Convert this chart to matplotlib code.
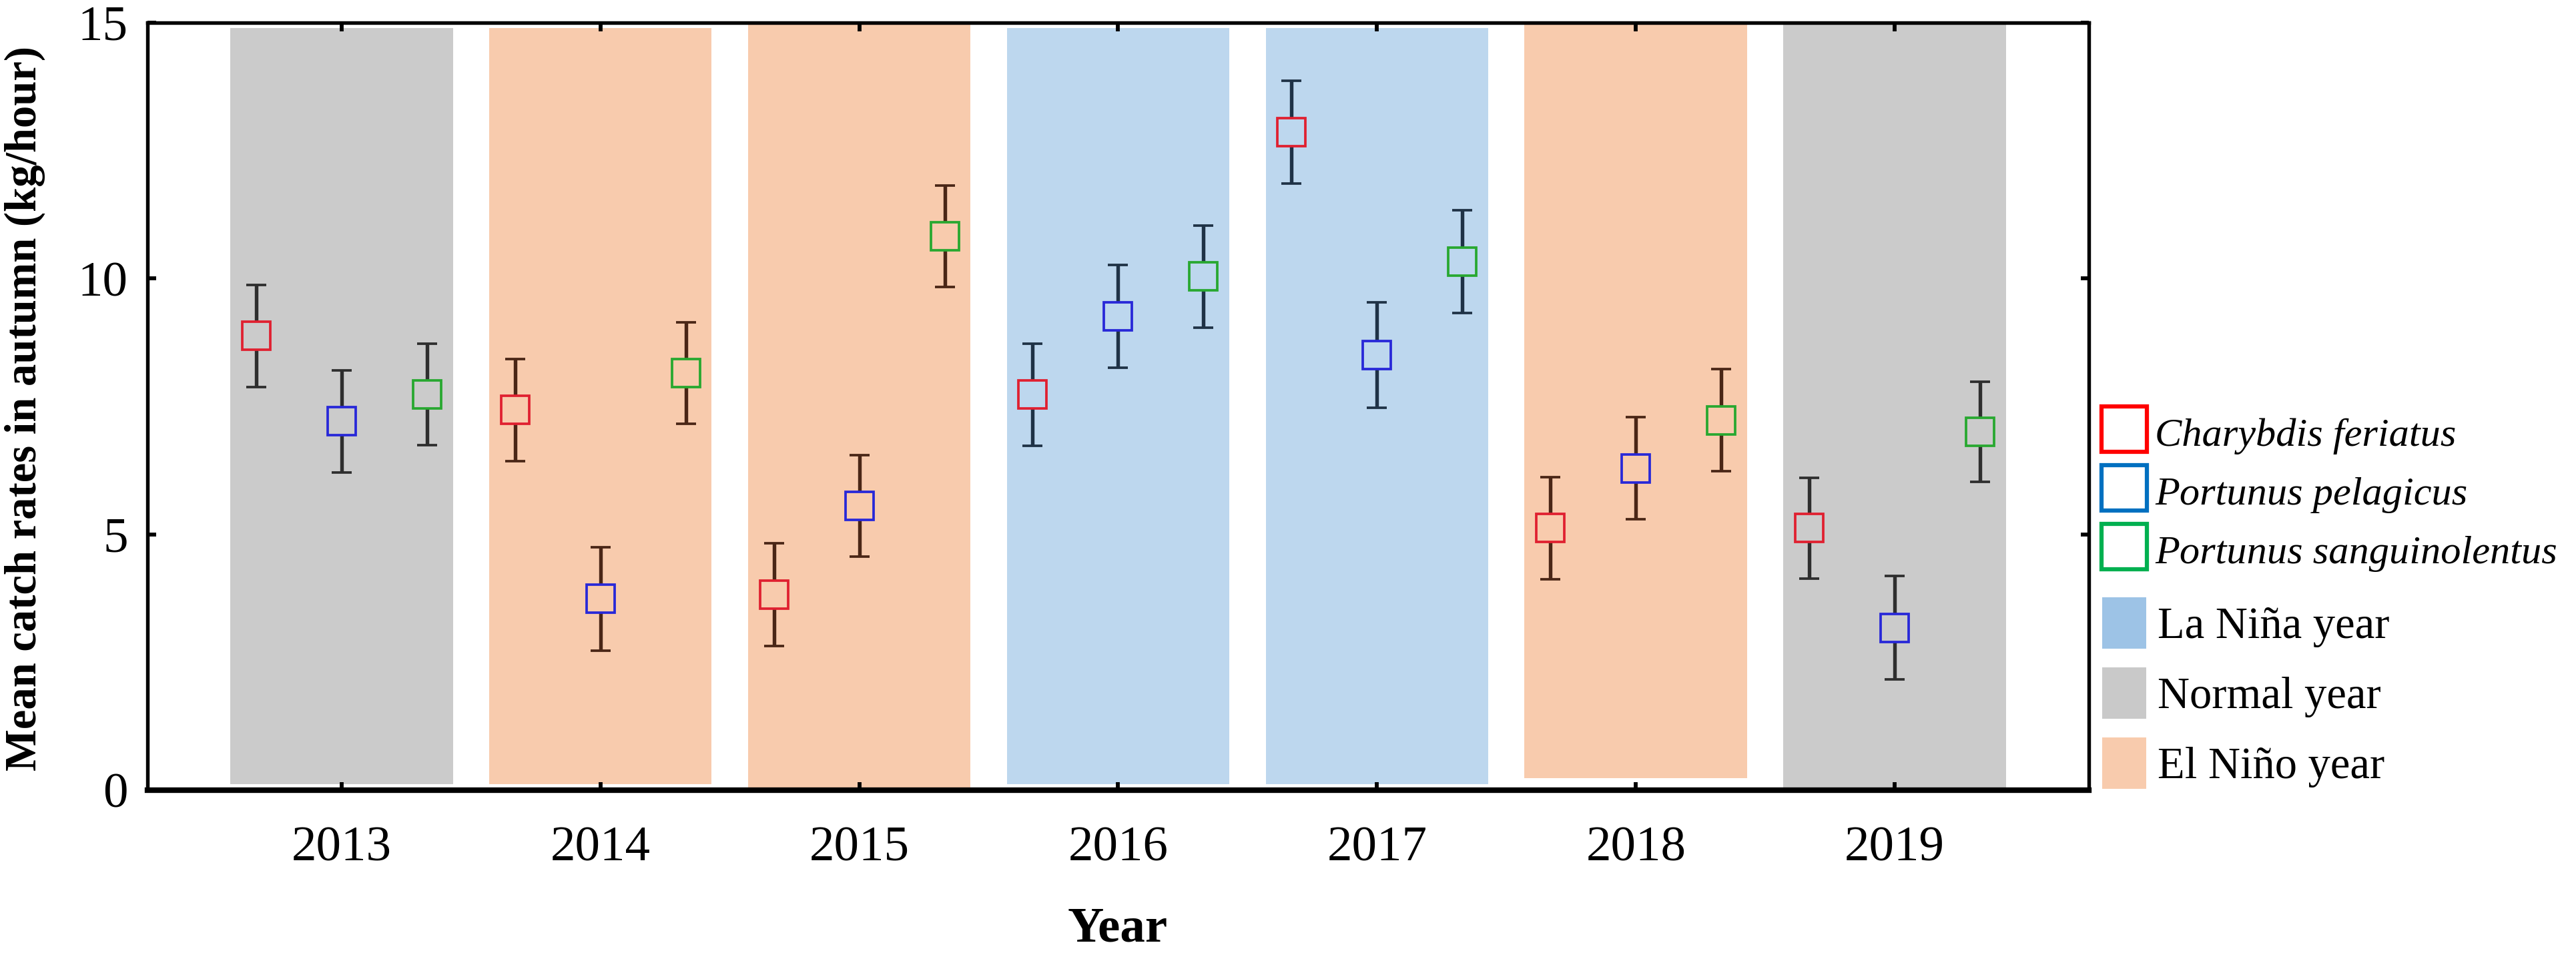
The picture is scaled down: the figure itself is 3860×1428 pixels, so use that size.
import matplotlib
matplotlib.use("Agg")
import matplotlib.pyplot as plt
from matplotlib.lines import Line2D
from matplotlib.patches import Patch

plt.rcParams['font.family'] = ['Liberation Serif', 'DejaVu Serif']

# data
years = [2013, 2014, 2015, 2016, 2017, 2018, 2019]
enso = ['Normal', 'El Niño', 'El Niño', 'La Niña', 'La Niña', 'El Niño', 'Normal']
band_bottom = [0.12, 0.12, 0.0, 0.12, 0.12, 0.23, 0.0]
band_top = [14.89, 14.89, 15.0, 14.89, 14.89, 15.0, 15.0]

species = ['Charybdis feriatus', 'Portunus pelagicus', 'Portunus sanguinolentus']
charybdis = [8.88, 7.43, 3.82, 7.73, 12.86, 5.12, 5.12]
pelagicus = [7.21, 3.74, 5.56, 9.26, 8.51, 6.29, 3.17]
sanguino = [7.73, 8.15, 10.83, 10.04, 10.33, 7.23, 7.00]
charybdis_err = [1.0, 1.0, 1.0, 1.0, 1.0, 1.0, 0.99]
pelagicus_err = [1.0, 1.01, 0.99, 1.0, 1.03, 1.0, 1.01]
sanguino_err = [0.99, 0.99, 0.99, 1.0, 1.0, 1.0, 0.98]

band_col = {'Normal': '#cbcbcb', 'El Niño': '#f8cbad', 'La Niña': '#bdd7ee'}
err_col = {'Normal': '#2e2e2e', 'El Niño': '#4a2616', 'La Niña': '#1f3246'}
legend_band_col = {'La Niña': '#9dc3e6', 'Normal': '#c9c9c9', 'El Niño': '#f8cbad'}
mk_col = ['#e02030', '#2828d8', '#28a830']
leg_col = ['#ff0000', '#0070c0', '#00b050']
offsets = [-0.33, 0.0, 0.33]

fig = plt.figure(figsize=(12.87, 4.76), dpi=300)
ax = fig.add_axes([0.0572, 0.1709, 0.7535, 0.8053])

ax.bar(years, [t - b for t, b in zip(band_top, band_bottom)], bottom=band_bottom,
       width=0.86, color=[band_col[e] for e in enso], zorder=1)

series = [charybdis, pelagicus, sanguino]
errs = [charybdis_err, pelagicus_err, sanguino_err]
for k in range(3):
    for i in range(len(years)):
        ax.errorbar(years[i] + offsets[k], series[k][i], yerr=errs[k][i],
                    fmt='s', ms=10, mfc=band_col[enso[i]], mec=mk_col[k], mew=0.9,
                    ecolor=err_col[enso[i]], elinewidth=1.3, capsize=3.5,
                    capthick=1.7, zorder=3)

ax.set_xlim(2012.25, 2019.75)
ax.set_ylim(0, 15)
ax.set_xticks(years)
ax.set_xticklabels([str(y) for y in years])
ax.set_yticks([0, 5, 10, 15])
ax.tick_params(direction='in', length=3, width=1.4, labelsize=18,
               top=True, right=True, color='black')
ax.tick_params(axis='x', pad=13)
ax.tick_params(axis='y', pad=7)
for s in ['left', 'top', 'right']:
    ax.spines[s].set_linewidth(1.3)
ax.spines['bottom'].set_linewidth(2.0)

ax.set_ylabel('Mean catch rates in autumn (kg/hour)', fontsize=16, fontweight='bold')
ax.yaxis.set_label_coords(-0.0526, 0.497)
fig.text(0.4338, 0.012, 'Year', fontsize=18, fontweight='bold', ha='center', va='baseline')

sp_handles = [Line2D([], [], ls='none', marker='s', ms=16.5, mfc='white',
                     mec=leg_col[k], mew=1.5) for k in range(3)]
fig.legend(sp_handles, species, loc='upper left', bbox_to_anchor=(0.8153, 0.567),
           frameon=False, borderpad=0, borderaxespad=0,
           handlelength=1.15, handleheight=1.1, handletextpad=0.2,
           labelspacing=0.42, prop={'style': 'italic', 'size': 14.5})

enso_labels = ['La Niña', 'Normal', 'El Niño']
band_handles = [Patch(facecolor=legend_band_col[e], edgecolor='none') for e in enso_labels]
fig.legend(band_handles, [e + ' year' for e in enso_labels], loc='upper left',
           bbox_to_anchor=(0.8158, 0.373), frameon=False, fontsize=16, borderpad=0,
           borderaxespad=0, handlelength=1.0, handleheight=1.4, handletextpad=0.25,
           labelspacing=0.42)

fig.savefig('out.png', dpi=300)
